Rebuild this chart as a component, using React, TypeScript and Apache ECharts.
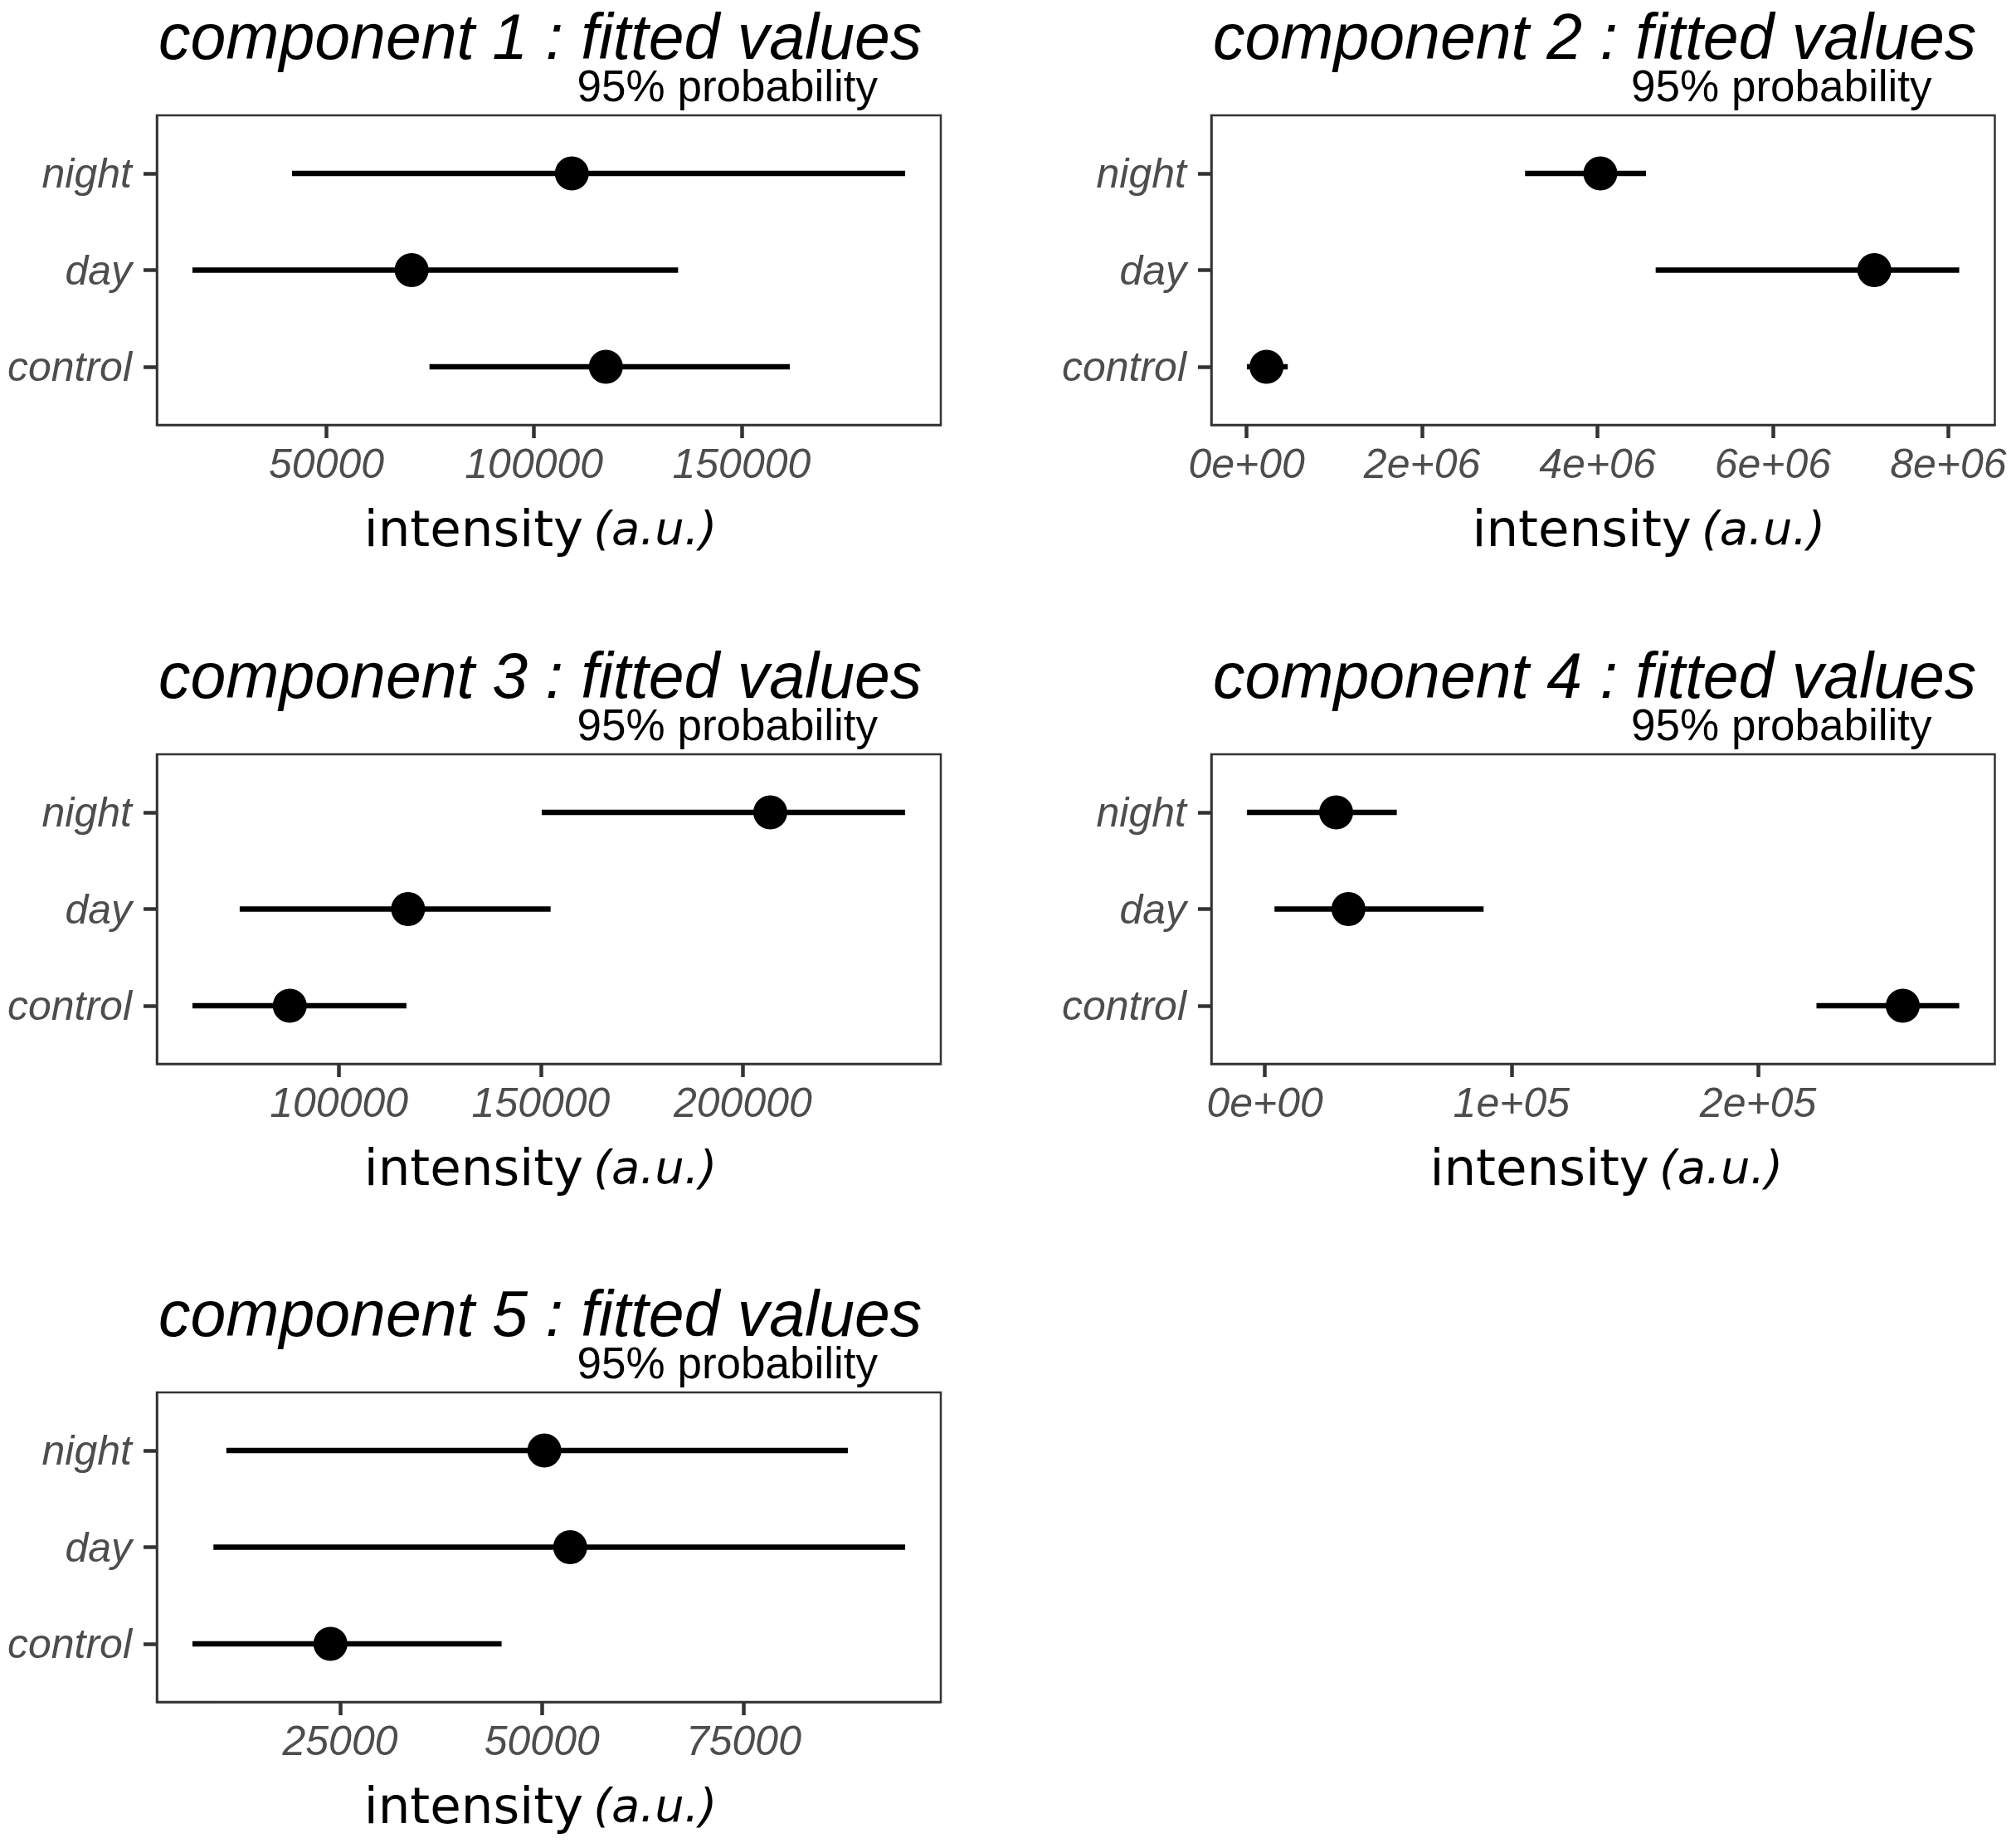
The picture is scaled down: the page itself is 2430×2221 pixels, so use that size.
import React, { useEffect, useRef } from 'react';
import * as echarts from 'echarts';

// ---------- data ----------
const categories = ['control', 'day', 'night'];

const c1Lo = [74800, 17700, 41700];
const c1Mid = [117300, 70500, 109100];
const c1Hi = [161600, 134700, 189400];

const c2Lo = [3000, 4664000, 3175000];
const c2Mid = [227000, 7157000, 4033000];
const c2Hi = [469000, 8125000, 4554000];

const c3Lo = [63700, 75400, 150200];
const c3Mid = [87800, 117100, 206800];
const c3Hi = [116700, 152400, 240200];

const c4Lo = [223700, 3900, -7300];
const c4Mid = [258700, 33900, 28900];
const c4Hi = [281600, 88700, 53500];

const c5Lo = [6700, 9300, 10900];
const c5Mid = [23800, 53500, 50300];
const c5Hi = [45000, 95000, 87900];

const ticks1 = [50000, 100000, 150000];
const tickLabels1 = ['50000', '100000', '150000'];
const ticks2 = [0, 2000000, 4000000, 6000000, 8000000];
const tickLabels2 = ['0e+00', '2e+06', '4e+06', '6e+06', '8e+06'];
const ticks3 = [100000, 150000, 200000];
const tickLabels3 = ['100000', '150000', '200000'];
const ticks4 = [0, 100000, 200000];
const tickLabels4 = ['0e+00', '1e+05', '2e+05'];
const ticks5 = [25000, 50000, 75000];
const tickLabels5 = ['25000', '50000', '75000'];

const panelTitles = [
  'component 1 : fitted values',
  'component 2 : fitted values',
  'component 3 : fitted values',
  'component 4 : fitted values',
  'component 5 : fitted values',
];
const subtitleText = '95% probability';

// ---------- layout ----------
const W = 2430;
const H = 2221;
const colLeft = [189, 1460];
const boxW = [945, 944.5];
const rowTop = [139, 909, 1678];
const boxH = 373;
const axisTitleShift = [-10, 55, -10, 4, -10];

const panels = [
  { lo: c1Lo, mid: c1Mid, hi: c1Hi, ticks: ticks1, labels: tickLabels1 },
  { lo: c2Lo, mid: c2Mid, hi: c2Hi, ticks: ticks2, labels: tickLabels2 },
  { lo: c3Lo, mid: c3Mid, hi: c3Hi, ticks: ticks3, labels: tickLabels3 },
  { lo: c4Lo, mid: c4Mid, hi: c4Hi, ticks: ticks4, labels: tickLabels4 },
  { lo: c5Lo, mid: c5Mid, hi: c5Hi, ticks: ticks5, labels: tickLabels5 },
];

const GREY_TEXT = '#4D4D4D';
const DARK = '#333333';
const SANS = '"Liberation Sans", Arial, sans-serif';
const DEJAVU = '"DejaVu Sans", sans-serif';

function buildOption() {
  const grid: any[] = [];
  const xAxis: any[] = [];
  const yAxis: any[] = [];
  const series: any[] = [];
  const graphic: any[] = [];

  panels.forEach((p, i) => {
    const col = i % 2;
    const row = Math.floor(i / 2);
    const left = colLeft[col];
    const top = rowTop[row];
    const width = boxW[col];

    grid.push({
      left,
      top,
      width,
      height: boxH,
      show: true,
      borderColor: DARK,
      borderWidth: 2.5,
      backgroundColor: '#ffffff',
      containLabel: false,
    });

    const dMin = Math.min(...p.lo);
    const dMax = Math.max(...p.hi);
    const pad = (dMax - dMin) * 0.05;

    xAxis.push({
      type: 'value',
      gridIndex: i,
      min: dMin - pad,
      max: dMax + pad,
      splitLine: { show: false },
      axisLine: { show: true, onZero: false, lineStyle: { color: DARK, width: 2.5 } },
      axisTick: {
        show: true,
        length: 16,
        customValues: p.ticks,
        lineStyle: { color: DARK, width: 4.5 },
      },
      axisLabel: {
        show: true,
        customValues: p.ticks,
        formatter: (v: number) => {
          const k = p.ticks.indexOf(v);
          return k >= 0 ? p.labels[k] : '';
        },
        margin: 22,
        fontSize: 50,
        fontStyle: 'italic',
        fontFamily: SANS,
        color: GREY_TEXT,
      },
    });

    yAxis.push({
      type: 'value',
      gridIndex: i,
      min: 0.4,
      max: 3.6,
      splitLine: { show: false },
      axisLine: { show: true, onZero: false, lineStyle: { color: DARK, width: 2.5 } },
      axisTick: {
        show: true,
        length: 16,
        customValues: [1, 2, 3],
        lineStyle: { color: DARK, width: 4.5 },
      },
      axisLabel: {
        show: true,
        customValues: [1, 2, 3],
        formatter: (v: number) => categories[Math.round(v) - 1] || '',
        margin: 30,
        fontSize: 50,
        fontStyle: 'italic',
        fontFamily: SANS,
        color: GREY_TEXT,
      },
    });

    series.push({
      type: 'custom',
      xAxisIndex: i,
      yAxisIndex: i,
      data: categories.map((_, k) => [p.lo[k], p.hi[k], k + 1]),
      encode: { x: [0, 1], y: 2 },
      renderItem: (params: any, api: any) => {
        const a = api.coord([api.value(0), api.value(2)]);
        const b = api.coord([api.value(1), api.value(2)]);
        return {
          type: 'line',
          shape: { x1: a[0], y1: a[1], x2: b[0], y2: b[1] },
          style: { stroke: '#000000', lineWidth: 6.5, lineCap: 'butt' },
        };
      },
      z: 2,
      silent: true,
    });

    series.push({
      type: 'scatter',
      xAxisIndex: i,
      yAxisIndex: i,
      data: categories.map((_, k) => [p.mid[k], k + 1]),
      symbol: 'circle',
      symbolSize: 41,
      itemStyle: { color: '#000000', opacity: 1 },
      z: 3,
      silent: true,
    });

    // title
    graphic.push({
      type: 'text',
      x: left + 2,
      y: top - 95,
      style: {
        text: panelTitles[i],
        font: `italic 77px ${SANS}`,
        lineHeight: 58,
        fill: '#000000',
        align: 'left',
        verticalAlign: 'middle',
      },
    });
    // subtitle
    graphic.push({
      type: 'text',
      x: left + width - 76,
      y: top - 36,
      style: {
        text: subtitleText,
        font: `53px ${SANS}`,
        lineHeight: 40,
        fill: '#000000',
        align: 'right',
        verticalAlign: 'middle',
      },
    });
    // axis title
    graphic.push({
      type: 'text',
      x: left + width / 2 + axisTitleShift[i],
      y: top + boxH + 124,
      style: {
        text: '{a|intensity}{b|(a.u.)}',
        align: 'center',
        verticalAlign: 'middle',
        rich: {
          a: { fontFamily: DEJAVU, fontSize: 61, fill: '#000000' },
          b: {
            fontFamily: DEJAVU,
            fontStyle: 'italic',
            fontSize: 56,
            fill: '#000000',
            padding: [0, 0, 0, 12],
          },
        },
      },
    });
  });

  return {
    animation: false,
    backgroundColor: '#ffffff',
    grid,
    xAxis,
    yAxis,
    series,
    graphic,
  };
}

export default function App() {
  const ref = useRef<HTMLDivElement>(null);
  useEffect(() => {
    document.body.style.margin = '0';
    document.body.style.overflow = 'hidden';
    const chart = echarts.init(ref.current as HTMLDivElement, null, {
      renderer: 'svg',
      width: W,
      height: H,
    });
    chart.setOption(buildOption());
    return () => chart.dispose();
  }, []);
  return (
    <div
      ref={ref}
      style={{ position: 'absolute', left: 0, top: 0, width: W, height: H, background: '#ffffff' }}
    />
  );
}
